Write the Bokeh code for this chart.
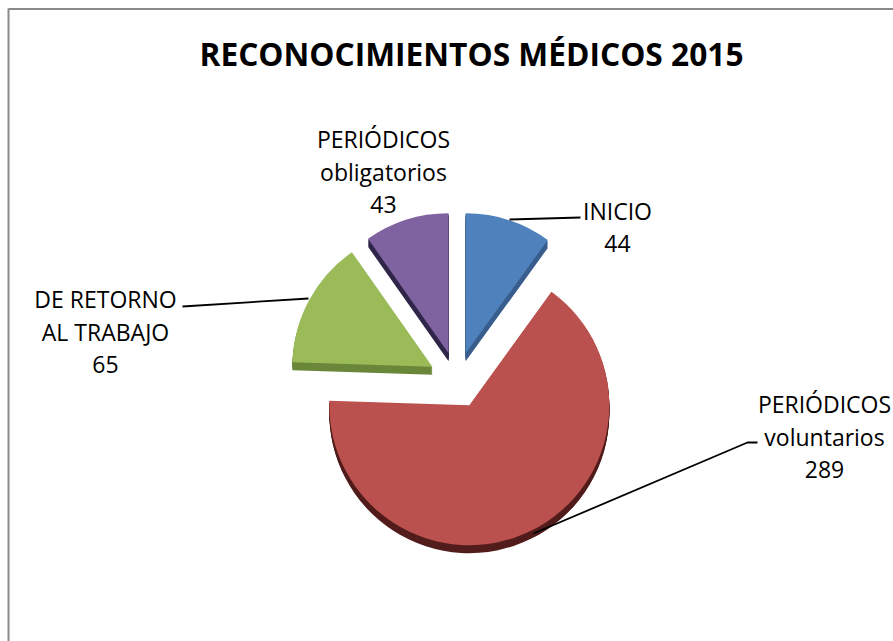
import numpy as np
from bokeh.plotting import figure
from bokeh.models import ColumnDataSource, Range1d
from bokeh.core.properties import value
from bokeh.embed import file_html
from bokeh.resources import INLINE

# ---------------- data ----------------
title_text = "RECONOCIMIENTOS MÉDICOS 2015"
categories = ["INICIO", "PERIÓDICOS\nvoluntarios", "DE RETORNO\nAL TRABAJO", "PERIÓDICOS\nobligatorios"]
values = [44, 289, 65, 43]

# ---------------- style ----------------
colors = ["#4F81BD", "#BB514E", "#9BBB59", "#7F63A0"]
rim_colors = ["#3a5f8e", "#521d1c", "#6a873a", "#30264a"]

W, H = 893, 641
def px(x):  # page x -> data x
    return x
def py(y):  # page y -> data y (y up)
    return H - y

CENTER = (456.5, 379.5)   # page coords of pie centre
RADIUS = 140
EXPLODE = 28
DEPTH = 8
FONT = "Open Sans"
LABEL_SIZE = "23px"
ROW_STEP = 33
LABEL_SHIFT = 8     # empirical baseline correction (px)
TITLE_SHIFT = 10

# label anchor: (centre x, first baseline y) in page coords
label_anchor = [(617, 218), (824, 411), (105, 306), (383, 146)]
# leader lines in page coords (None = no leader)
leaders = [
    [(509, 219), (580, 217)],
    [(533, 533), (747, 442), (757, 442)],
    [(182, 306), (308, 298)],
    None,
]

# ---------------- geometry from values ----------------
vals = np.array(values, dtype=float)
frac = vals / vals.sum()
cum = np.concatenate([[0.0], np.cumsum(frac)]) * 360.0   # clockwise from 12 o'clock
th1, th2 = cum[:-1], cum[1:]
mid = (th1 + th2) / 2
start = np.radians(90.0 - th2)
end = np.radians(90.0 - th1)
cx = px(CENTER[0]) + EXPLODE * np.sin(np.radians(mid))
cy = py(CENTER[1]) + EXPLODE * np.cos(np.radians(mid))

p = figure(width=W, height=H, output_backend="svg", toolbar_location=None,
           x_range=Range1d(0, W), y_range=Range1d(0, H),
           min_border=0, x_axis_type=None, y_axis_type=None)
p.grid.visible = False
p.outline_line_color = None
p.background_fill_color = "white"
p.border_fill_color = "white"

# 3D rim (stacked shifted copies)
rx, ry, rs, re, rc = [], [], [], [], []
for k in range(DEPTH, 0, -1):
    for i in range(len(values)):
        rx.append(cx[i]); ry.append(cy[i] - k)
        rs.append(start[i]); re.append(end[i]); rc.append(rim_colors[i])
p.wedge(x="x", y="y", radius=RADIUS, start_angle="s", end_angle="e",
        fill_color="c", line_color=None,
        source=ColumnDataSource(dict(x=rx, y=ry, s=rs, e=re, c=rc)))

# top faces
p.wedge(x="x", y="y", radius=RADIUS, start_angle="s", end_angle="e",
        fill_color="c", line_color=None,
        source=ColumnDataSource(dict(x=list(cx), y=list(cy), s=list(start),
                                     e=list(end), c=colors)))

# leader lines
for ld in leaders:
    if ld:
        p.line([px(a) for a, b in ld], [py(b) for a, b in ld],
               line_color="black", line_width=1.8)

# data labels
tx, ty, tt = [], [], []
for i, (name, v) in enumerate(zip(categories, values)):
    lines = name.split("\n") + [str(v)]
    ax, ay = label_anchor[i]
    for j, ln in enumerate(lines):
        tx.append(px(ax)); ty.append(py(ay + j * ROW_STEP - LABEL_SHIFT)); tt.append(ln)
p.text(x="x", y="y", text="t", source=ColumnDataSource(dict(x=tx, y=ty, t=tt)),
       text_font=value(FONT), text_font_size=LABEL_SIZE, text_color="#000000",
       text_align="center", text_baseline="alphabetic")

# title
p.text(x=[px(471)], y=[py(63 - TITLE_SHIFT)], text=[title_text], text_font=value(FONT),
       text_font_size="31.7px", text_font_style="bold", text_color="#000000",
       text_align="center", text_baseline="alphabetic")

# chart-area border (top and left visible in the reference crop)
p.line([px(8), px(8)], [0, py(8)], line_color="#8a8a8a", line_width=2)
p.line([px(8), W], [py(8.5), py(8.5)], line_color="#8a8a8a", line_width=2)

open("out.html", "w").write(file_html(p, INLINE))
